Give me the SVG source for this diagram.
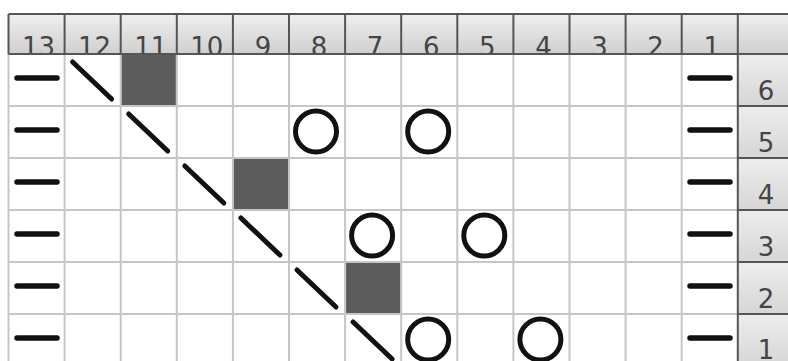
<svg xmlns="http://www.w3.org/2000/svg" width="788" height="361" viewBox="0 0 788 361">
<defs>
<linearGradient id="hdr" x1="0" y1="0" x2="0" y2="1">
<stop offset="0" stop-color="#efefef"/>
<stop offset="1" stop-color="#cfcfcf"/>
</linearGradient>
<linearGradient id="side" x1="0" y1="0" x2="0" y2="1">
<stop offset="0" stop-color="#ededed"/>
<stop offset="1" stop-color="#d6d6d6"/>
</linearGradient>
<clipPath id="hclip"><rect x="8" y="14" width="790" height="40"/></clipPath>
</defs>
<style>
.grid{stroke:#c6c6c6;stroke-width:2;fill:none}
.dark{stroke:#555;stroke-width:2;fill:none}
.num{font-family:"DejaVu Sans","Liberation Sans",sans-serif;font-size:26px;fill:#454545;text-anchor:middle}
.dash{stroke:#111;stroke-width:5.5;stroke-linecap:round}
.diag{stroke:#111;stroke-width:5;stroke-linecap:round}
.ring{fill:none;stroke:#111;stroke-width:5}
.sq{fill:#5c5c5c}
.cell{fill:url(#side)}
</style>
<rect width="788" height="361" fill="#fff"/>
<g id="header">
<rect x="8.5" y="14" width="790" height="40" fill="url(#hdr)"/>
<g clip-path="url(#hclip)">
<text class="num" x="38.5" y="56">13</text>
<text class="num" x="94.6" y="56">12</text>
<text class="num" x="150.7" y="56">11</text>
<text class="num" x="206.8" y="56">10</text>
<text class="num" x="262.9" y="56">9</text>
<text class="num" x="319" y="56">8</text>
<text class="num" x="375.1" y="56">7</text>
<text class="num" x="431.2" y="56">6</text>
<text class="num" x="487.3" y="56">5</text>
<text class="num" x="543.4" y="56">4</text>
<text class="num" x="599.5" y="56">3</text>
<text class="num" x="655.6" y="56">2</text>
<text class="num" x="711.7" y="56">1</text>
</g>
</g>
<g id="row-labels">
<rect class="cell" x="737.8" y="54" width="60" height="52"/>
<rect class="cell" x="737.8" y="106" width="60" height="52"/>
<rect class="cell" x="737.8" y="158" width="60" height="52"/>
<rect class="cell" x="737.8" y="210" width="60" height="52"/>
<rect class="cell" x="737.8" y="262" width="60" height="52"/>
<rect class="cell" x="737.8" y="314" width="60" height="52"/>
<text class="num" x="766" y="100">6</text>
<text class="num" x="766" y="152">5</text>
<text class="num" x="766" y="204">4</text>
<text class="num" x="766" y="256">3</text>
<text class="num" x="766" y="308">2</text>
<text class="num" x="766" y="359">1</text>
</g>
<g id="grid">
<path class="grid" d="M8.5 54V366M64.6 54V366M120.7 54V366M176.8 54V366M232.9 54V366M289 54V366M345.1 54V366M401.2 54V366M457.3 54V366M513.4 54V366M569.5 54V366M625.6 54V366M681.7 54V366"/>
<path class="grid" d="M8.5 106H737.8M8.5 158H737.8M8.5 210H737.8M8.5 262H737.8M8.5 314H737.8"/>
<path class="dark" d="M8.5 14H790M8.5 54H790M8.5 14V54M64.6 14V54M120.7 14V54M176.8 14V54M232.9 14V54M289 14V54M345.1 14V54M401.2 14V54M457.3 14V54M513.4 14V54M569.5 14V54M625.6 14V54M681.7 14V54M737.8 14V366"/>
<path class="dark" d="M737.8 106H790M737.8 158H790M737.8 210H790M737.8 262H790M737.8 314H790"/>
</g>
<g id="row6">
<line class="dash" x1="17" y1="78" x2="57" y2="78"/>
<line class="diag" x1="72.6" y1="62" x2="111.6" y2="99"/>
<rect class="sq" x="121.7" y="55" width="54.1" height="50"/>
<line class="dash" x1="690" y1="78" x2="730" y2="78"/>
</g>
<g id="row5">
<line class="dash" x1="17" y1="130" x2="57" y2="130"/>
<line class="diag" x1="128.7" y1="114" x2="167.7" y2="151"/>
<circle class="ring" cx="316" cy="131.5" r="20.5"/>
<circle class="ring" cx="428.2" cy="131.5" r="20.5"/>
<line class="dash" x1="690" y1="130" x2="730" y2="130"/>
</g>
<g id="row4">
<line class="dash" x1="17" y1="182" x2="57" y2="182"/>
<line class="diag" x1="184.8" y1="166" x2="223.8" y2="203"/>
<rect class="sq" x="233.9" y="159" width="54.1" height="50"/>
<line class="dash" x1="690" y1="182" x2="730" y2="182"/>
</g>
<g id="row3">
<line class="dash" x1="17" y1="234" x2="57" y2="234"/>
<line class="diag" x1="240.9" y1="218" x2="279.9" y2="255"/>
<circle class="ring" cx="372.1" cy="235.5" r="20.5"/>
<circle class="ring" cx="484.3" cy="235.5" r="20.5"/>
<line class="dash" x1="690" y1="234" x2="730" y2="234"/>
</g>
<g id="row2">
<line class="dash" x1="17" y1="286" x2="57" y2="286"/>
<line class="diag" x1="297" y1="270" x2="336" y2="307"/>
<rect class="sq" x="346.1" y="263" width="54.1" height="50"/>
<line class="dash" x1="690" y1="286" x2="730" y2="286"/>
</g>
<g id="row1">
<line class="dash" x1="17" y1="338" x2="57" y2="338"/>
<line class="diag" x1="353.1" y1="322" x2="392.1" y2="359"/>
<circle class="ring" cx="428.2" cy="339.5" r="20.5"/>
<circle class="ring" cx="540.4" cy="339.5" r="20.5"/>
<line class="dash" x1="690" y1="338" x2="730" y2="338"/>
</g>
</svg>
